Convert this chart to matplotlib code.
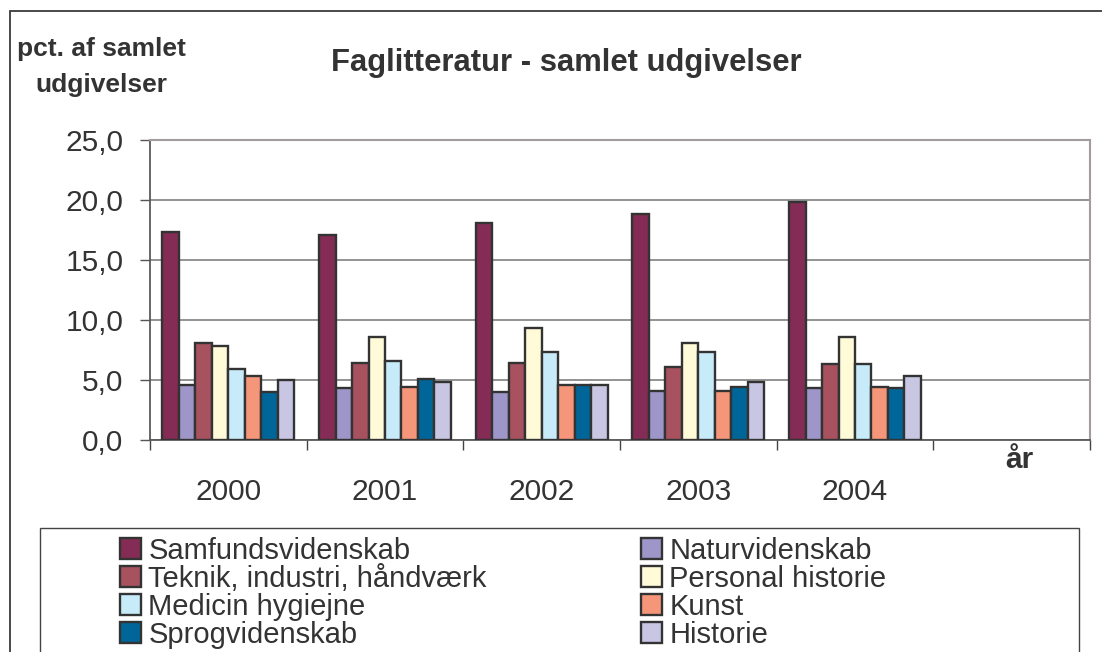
import matplotlib
matplotlib.use("Agg")
import matplotlib.pyplot as plt
from matplotlib.patches import Rectangle
from matplotlib.ticker import FixedLocator, FuncFormatter
import numpy as np

# ---- data ----
years = ["2000", "2001", "2002", "2003", "2004"]
series_names = ["Samfundsvidenskab", "Naturvidenskab", "Teknik, industri, håndværk",
                "Personal historie", "Medicin hygiejne", "Kunst", "Sprogvidenskab", "Historie"]
samfund = [17.3, 17.1, 18.1, 18.8, 19.8]
natur = [4.6, 4.3, 4.0, 4.1, 4.3]
teknik = [8.1, 6.4, 6.4, 6.1, 6.3]
personal = [7.8, 8.6, 9.3, 8.1, 8.6]
medicin = [5.9, 6.6, 7.3, 7.3, 6.3]
kunst = [5.3, 4.4, 4.6, 4.1, 4.4]
sprog = [4.0, 5.1, 4.6, 4.4, 4.3]
historie = [5.0, 4.8, 4.6, 4.8, 5.3]
colors = ["#842C55", "#9E96C8", "#A85260", "#FFFAD7", "#C8EBF9", "#F5967A", "#006699", "#C8C6E2"]
yticks = [0, 5, 10, 15, 20, 25]
title = "Faglitteratur - samlet udgivelser"
ylabel = "pct. af samlet\nudgivelser"
xlabel = "år"

values = [samfund, natur, teknik, personal, medicin, kunst, sprog, historie]

plt.rcParams["font.family"] = ["Liberation Sans", "DejaVu Sans"]
TXT = "#333333"
plt.rcParams["text.color"] = TXT

W, H = 1102, 652
fig = plt.figure(figsize=(W / 100, H / 100), dpi=100)
fig.patch.set_facecolor("white")

# outer chart border (cropped at right and bottom)
fig.patches.append(Rectangle((10 / W, -0.2), 1.5, 1 - 11 / H + 0.2, transform=fig.transFigure,
                             fill=False, edgecolor="#3a3a3a", linewidth=1.3))

ax = fig.add_axes([150 / W, (H - 440) / H, 940 / W, 300 / H])
ax.set_facecolor("white")

n = len(values)
ncat = len(years) + 1
w = 1 / (n + 1.5)
x = np.arange(len(years))
handles = []
for i, (vals, col, name) in enumerate(zip(values, colors, series_names)):
    b = ax.bar(x + (i - (n - 1) / 2) * w, vals, width=w, color=col, edgecolor="#333333",
               linewidth=1.7, label=name, zorder=3)
    handles.append(b)

ax.set_xlim(-0.5, ncat - 0.5)
ax.set_ylim(yticks[0], yticks[-1])

# y axis
ax.yaxis.set_major_locator(FixedLocator(yticks))
ax.yaxis.set_major_formatter(FuncFormatter(lambda v, p: f"{v:.1f}".replace(".", ",")))
ax.tick_params(axis="y", direction="out", length=7, width=1, color="#555555",
               labelsize=21.5, labelcolor=TXT, pad=12)
ax.grid(axis="y", color="#808080", linewidth=1.2, zorder=0)

# x axis: boundary ticks, labels at centres
ax.xaxis.set_major_locator(FixedLocator(np.arange(ncat + 1) - 0.5))
ax.xaxis.set_major_formatter(FuncFormatter(lambda v, p: ""))
ax.xaxis.set_minor_locator(FixedLocator(x))
ax.set_xticks(x, years, minor=True)
ax.tick_params(axis="x", which="major", direction="out", length=7, width=1, color="#444444")
ax.tick_params(axis="x", which="minor", length=0, labelsize=21.5, labelcolor=TXT, pad=27)

for s in ["top", "right"]:
    ax.spines[s].set_color("#a39c9c")
    ax.spines[s].set_linewidth(1.5)
ax.spines["left"].set_color("#5a5a5a")
ax.spines["left"].set_linewidth(1.3)
ax.spines["bottom"].set_color("#5a5a5a")
ax.spines["bottom"].set_linewidth(1.3)

ax.text(len(years) + 0.05, -0.067, xlabel, transform=ax.get_xaxis_transform(),
        ha="center", va="center", fontsize=21.5, fontweight="bold", color=TXT)

# titles
fig.text(566 / W, 1 - 63 / H, title, ha="center", va="center", fontsize=22.3,
         fontweight="bold", color=TXT)
fig.text(101 / W, 1 - 67 / H, ylabel, ha="center", va="center", fontsize=19,
         fontweight="bold", color=TXT, linespacing=1.65, multialignment="center")

# legend frame
fig.patches.append(Rectangle((40 / W, -0.2), (1079 - 40) / W, 1 - 528 / H + 0.2,
                             transform=fig.transFigure, fill=False,
                             edgecolor="#444444", linewidth=1.0))

kw = dict(frameon=False, fontsize=21, handlelength=0.72, handleheight=0.72,
          handletextpad=0.25, labelspacing=0.0, borderpad=0, borderaxespad=0,
          loc="upper left", bbox_transform=fig.transFigure)
leg1 = fig.legend(handles[0::2], series_names[0::2], bbox_to_anchor=(120 / W, 1 - 537 / H), **kw)
leg2 = fig.legend(handles[1::2], series_names[1::2], bbox_to_anchor=(641 / W, 1 - 537 / H), **kw)
for lg in (leg1, leg2):
    for t in lg.get_texts():
        t.set_color(TXT)

fig.savefig("out.png", dpi=100, facecolor="white")
